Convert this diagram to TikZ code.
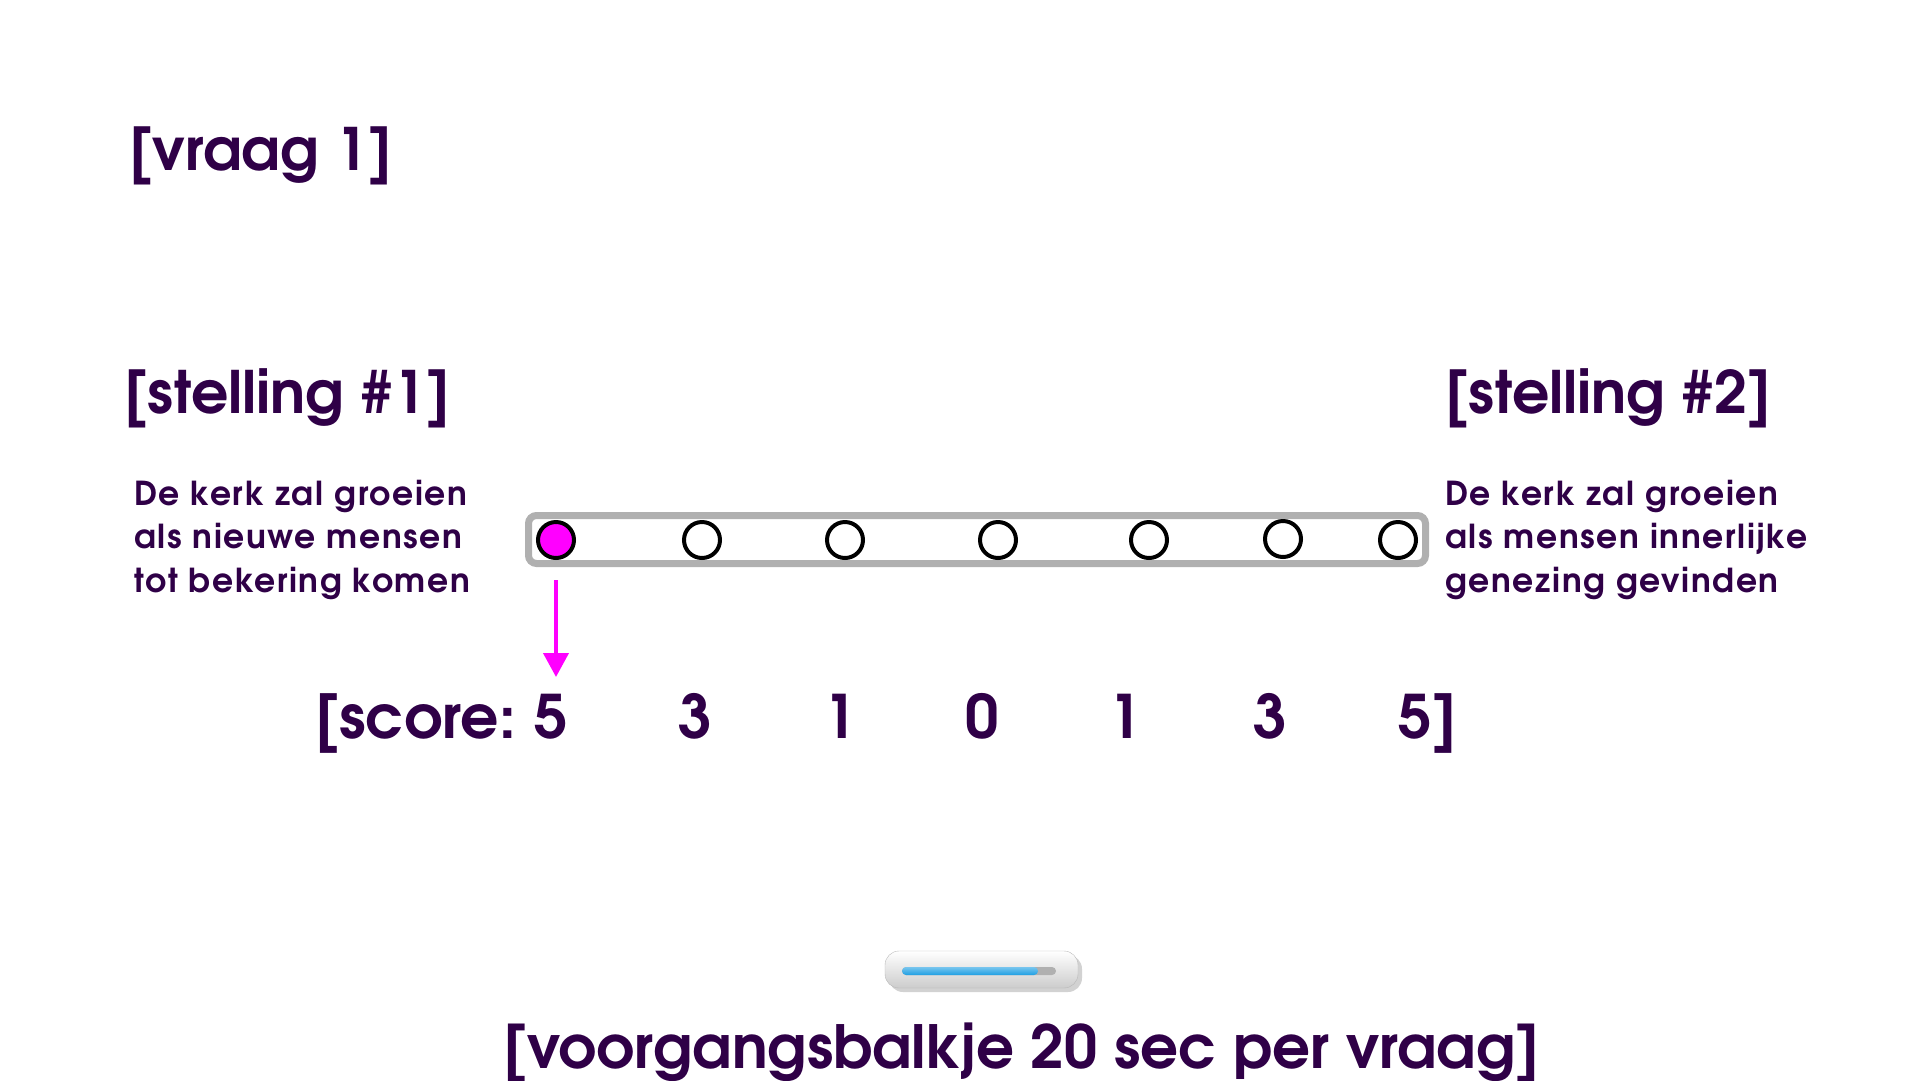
\documentclass[tikz,border=0pt]{standalone}
\usepackage{fontspec}
\setmainfont{texgyreadventor}[Extension=.otf,UprightFont=*-regular,BoldFont=*-bold]
\newfontfamily\ruim{texgyreadventor}[Extension=.otf,UprightFont=*-regular,BoldFont=*-bold,LetterSpace=5]
\usetikzlibrary{arrows.meta}
\definecolor{paars}{HTML}{2F0047}
\definecolor{roze}{HTML}{FF00FF}
\definecolor{balkgrijs}{HTML}{B0B0B0}
\definecolor{balkblauw}{HTML}{1E9FE3}
\begin{document}
\begin{tikzpicture}[x=1pt,y=-1pt,
    kop/.style={anchor=base west,inner sep=0,text=paars,font=\fontsize{58.5}{58.5}\selectfont\bfseries},
    uitleg/.style={anchor=base west,inner sep=0,text=paars,align=left,font=\ruim\fontsize{33}{43.5}\selectfont\bfseries},
    cijfer/.style={anchor=base,inner sep=0,text=paars,font=\fontsize{60}{60}\selectfont\bfseries},
    keuze/.style={circle,draw=black,line width=4pt,fill=white,minimum size=36pt,inner sep=0}]
  \useasboundingbox (0,0) rectangle (1920,1080);
  \node[kop] (vraag) at (129,170) {[vraag 1]};
  \node[kop] (stelling1) at (124,413) {[stelling \#1]};
  \node[kop] (stelling2) at (1445,413) {[stelling \#2]};
  \node[uitleg] (uitleg1) at (134,592) {De kerk zal groeien\\als nieuwe mensen\\tot bekering komen};
  \node[uitleg] (uitleg2) at (1445,592) {De kerk zal groeien\\als mensen innerlijke\\genezing gevinden};
  \node[draw=balkgrijs,line width=7pt,rounded corners=8pt,minimum width=897pt,minimum height=48pt,inner sep=0] (balk) at (977,539.5) {};
  \node[keuze,fill=roze] (c1) at (556,540) {};
  \node[keuze] (c2) at (702,540) {};
  \node[keuze] (c3) at (845,540) {};
  \node[keuze] (c4) at (998,540) {};
  \node[keuze] (c5) at (1149,540) {};
  \node[keuze] (c6) at (1283,539) {};
  \node[keuze] (c7) at (1398,540) {};
  \node[cijfer,anchor=base east] (score) at (516,738) {[score:};
  \node[cijfer] (s1) at (551,738) {5};
  \node[cijfer] (s2) at (695,738) {3};
  \node[cijfer] (s3) at (840,738) {1};
  \node[cijfer] (s4) at (982,738) {0};
  \node[cijfer] (s5) at (1125,738) {1};
  \node[cijfer] (s6) at (1270,738) {3};
  \node[cijfer] (s7) at (1415,738) {5};
  \node[cijfer,anchor=base west] (sluit) at (s7.base east) {]};
  \coordinate (pijlpunt) at (556,677);
  \draw[roze,line width=4pt,-{Triangle[width=25pt,length=24pt]}] ([yshift=-20pt]c1.south) -- (pijlpunt);
  \fill[gray!35,rounded corners=14pt] (889,955) rectangle (1082,992);
  \shade[top color=white,bottom color=gray!40,draw=gray!55,rounded corners=14pt] (885,951) rectangle (1078,988);
  \fill[balkgrijs,rounded corners=4pt] (902,967) rectangle (1056,975);
  \shade[top color=balkblauw!60,bottom color=balkblauw,rounded corners=4pt] (902,967) rectangle (1038,975);
  \node[kop,font=\fontsize{59.5}{59.5}\selectfont\bfseries] (balkje) at (503,1068) {[voorgangsbalkje 20 sec per vraag]};
\end{tikzpicture}
\end{document}
